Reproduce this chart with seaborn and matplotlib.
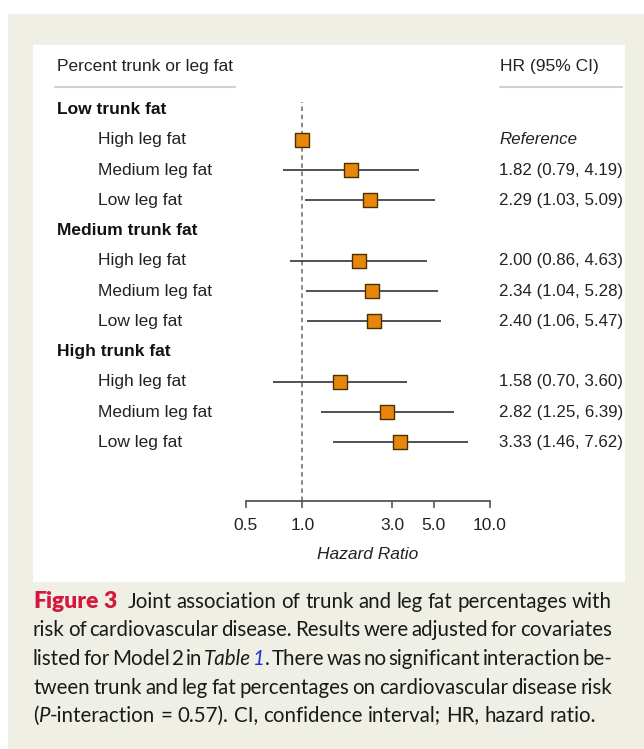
import numpy as np
import pandas as pd
import matplotlib
matplotlib.use("Agg")
import matplotlib.pyplot as plt
import seaborn as sns
from matplotlib.lines import Line2D
from matplotlib.patches import Rectangle
from matplotlib.transforms import blended_transform_factory
from matplotlib.backends.backend_agg import get_hinting_flag

W, H = 644, 749

# data
groups = ["Low trunk fat", "Medium trunk fat", "High trunk fat"]
leg_levels = ["High leg fat", "Medium leg fat", "Low leg fat"]
hr = [1.00, 1.82, 2.29, 2.00, 2.34, 2.40, 1.58, 2.82, 3.33]
ci_low = [np.nan, 0.79, 1.03, 0.86, 1.04, 1.06, 0.70, 1.25, 1.46]
ci_high = [np.nan, 4.19, 5.09, 4.63, 5.28, 5.47, 3.60, 6.39, 7.62]
x_ticks = [0.5, 1.0, 3.0, 5.0, 10.0]
x_tick_labels = ["0.5", "1.0", "3.0", "5.0", "10.0"]

caption = [
    [("Figure 3", "b"), ("  Joint association of trunk and leg fat percentages with", "n")],
    [("risk of cardiovascular disease. Results were adjusted for covariates", "n")],
    [("listed for Model 2 in ", "n"), ("Table", "i"), (" ", "n"), ("1", "l"),
     (". There was no significant interaction be-", "n")],
    [("tween trunk and leg fat percentages on cardiovascular disease risk", "n")],
    [("(", "n"), ("P", "i"), ("-interaction = 0.57). CI, confidence interval; HR, hazard ratio.", "n")],
]


def fx(x):
    return x / W


def fy(y):
    return 1 - y / H


# rows: group header then three leg-fat rows
rows = []
pos = 0
k = 0
for g in groups:
    rows.append(dict(pos=pos, label=g, header=True, hr=np.nan, lo=np.nan, hi=np.nan))
    pos += 1
    for leg in leg_levels:
        rows.append(dict(pos=pos, label=leg, header=False, hr=hr[k], lo=ci_low[k], hi=ci_high[k]))
        pos += 1
        k += 1
df = pd.DataFrame(rows)
pts = df[~df.header]

sns.set_theme(style="white")
plt.rcParams['font.family'] = ['Liberation Sans', 'DejaVu Sans']

fig = plt.figure(figsize=(W / 100, H / 100), dpi=100)
fig.patch.set_facecolor("white")
fig.add_artist(Rectangle((fx(8), 0), (W - 8) / W, (H - 14) / H, transform=fig.transFigure,
                         facecolor="#efefe5", edgecolor="none", zorder=-10))
fig.add_artist(Rectangle((fx(33), fy(582)), (625 - 33) / W, (582 - 45) / H, transform=fig.transFigure,
                         facecolor="white", edgecolor="none", zorder=-9))

row0, dy = 109.5, 30.25
ax = fig.add_axes([fx(246), fy(501), (490 - 246) / W, (501 - 95) / H])
ax.set_facecolor("none")
ax.set_xscale("log")
ax.set_xlim(0.5, 10)
ax.set_ylim((501 - row0) / dy, (95 - row0) / dy)

ax.axvline(1.0, ymin=0, ymax=(501 - 102) / 406, color="#808080", lw=1.3, ls=(0, (2.5, 2)), zorder=1)
ax.hlines(pts.pos, pts.lo, pts.hi, color="#333333", lw=1.2, zorder=2)
sns.scatterplot(data=pts, x="hr", y="pos", marker="s", s=115, color="#e8860c",
                edgecolor="#4a3000", linewidth=1, ax=ax, zorder=3, legend=False, clip_on=False)

for s in ["left", "right", "top"]:
    ax.spines[s].set_visible(False)
ax.spines["bottom"].set_color("#555555")
ax.spines["bottom"].set_linewidth(1.3)
ax.set_yticks([])
ax.set_xticks(x_ticks)
ax.set_xticklabels(x_tick_labels)
ax.xaxis.set_minor_locator(matplotlib.ticker.NullLocator())
ax.tick_params(axis="x", bottom=True, direction="out", length=5, width=1.2, color="#555555",
               pad=7, labelsize=12.5, labelcolor="#222222")
ax.set_ylabel("")
ax.set_xlabel("Hazard Ratio", fontsize=12.5, style="italic", color="#222222", labelpad=10)

trans = blended_transform_factory(fig.transFigure, ax.transData)
for _, r in df.iterrows():
    if r.header:
        ax.text(fx(57), r.pos, r.label, transform=trans, fontsize=12.5, fontweight="bold",
                color="#111111", va="center")
    else:
        ax.text(fx(98), r.pos, r.label, transform=trans, fontsize=12.5, color="#222222", va="center")
        if r.hr == 1.0 and np.isnan(r.lo):
            txt, st = "Reference", "italic"
        else:
            txt, st = "{:.2f} ({:.2f}, {:.2f})".format(r.hr, r.lo, r.hi), "normal"
        ax.text(fx(499), r.pos, txt, transform=trans, fontsize=12.2, style=st,
                color="#222222", va="center")

# column headers
fig.text(fx(57), fy(66), "Percent trunk or leg fat", fontsize=12.5, color="#222222", va="center")
fig.text(fx(500), fy(66), "HR (95% CI)", fontsize=12.5, color="#222222", va="center")
fig.add_artist(Line2D([fx(55), fx(235)], [fy(87), fy(87)], color="#d0d0d0", lw=1.5))
fig.add_artist(Line2D([fx(500), fx(622)], [fy(87), fy(87)], color="#d0d0d0", lw=1.5))

# caption, justified between x=33 and x=612
styles = {
    "n": dict(color="#1a1a1a", fontsize=14.8),
    "i": dict(color="#1a1a1a", style="italic", fontsize=14.8),
    "l": dict(color="#2233dd", style="italic", fontsize=14.8),
    "b": dict(color="#d4183d", fontweight="heavy", fontsize=16.5),
}
cap_font = ["Lato", "DejaVu Sans"]
left, right = 33, 612
renderer = fig.canvas.get_renderer()


def snap_baseline(t, target_px):
    # agg rounds each text bitmap on its own, so words drift by a pixel;
    # work out the bitmap metrics and put every word's baseline on target_px
    font = renderer._prepare_font(t.get_fontproperties())
    font.set_text(t.get_text(), 0, flags=get_hinting_flag())
    h64 = font.get_width_height()[1]
    d64 = font.get_descent()
    yb = target_px + h64 // 64 - (h64 - d64) // 64 - d64 / 64.0
    t.set_y((H - yb) / H)


space_t = fig.text(0, 0, "a a", family=cap_font, **styles["n"])
aa_t = fig.text(0, 0, "aa", family=cap_font, **styles["n"])
space_w = space_t.get_window_extent(renderer).width - aa_t.get_window_extent(renderer).width
space_t.remove()
aa_t.remove()

for li, line in enumerate(caption):
    words = [[]]
    for text, st in line:
        parts = text.split(" ")
        for j, p in enumerate(parts):
            if j > 0:
                words.append([])
            if p:
                words[-1].append((p, st))
    # empty words (double space) become extra gap
    cleaned = []
    gaps_extra = []
    for w in words:
        if w:
            cleaned.append(w)
            gaps_extra.append(0)
        elif cleaned:
            gaps_extra[-1] += 6
    base_px = round(603 + 28.5 * li + 5)
    measured = []
    total = 0
    for w in cleaned:
        segs = []
        ww = 0
        for p, st in w:
            t = fig.text(0, 0, p, family=cap_font, va="baseline", **styles[st])
            snap_baseline(t, base_px)
            wd = t.get_window_extent(renderer).width
            segs.append((t, wd))
            ww += wd
        measured.append(segs)
        total += ww
    n_gaps = len(cleaned) - 1
    fixed = sum(gaps_extra[:-1])
    if li < len(caption) - 1:
        gap = (right - left - total - fixed) / n_gaps
    else:
        gap = space_w
    x = left
    for wi, segs in enumerate(measured):
        for t, wd in segs:
            t.set_x(fx(x))
            x += wd
        x += gap + gaps_extra[wi]

fig.savefig("out.png", dpi=100)
